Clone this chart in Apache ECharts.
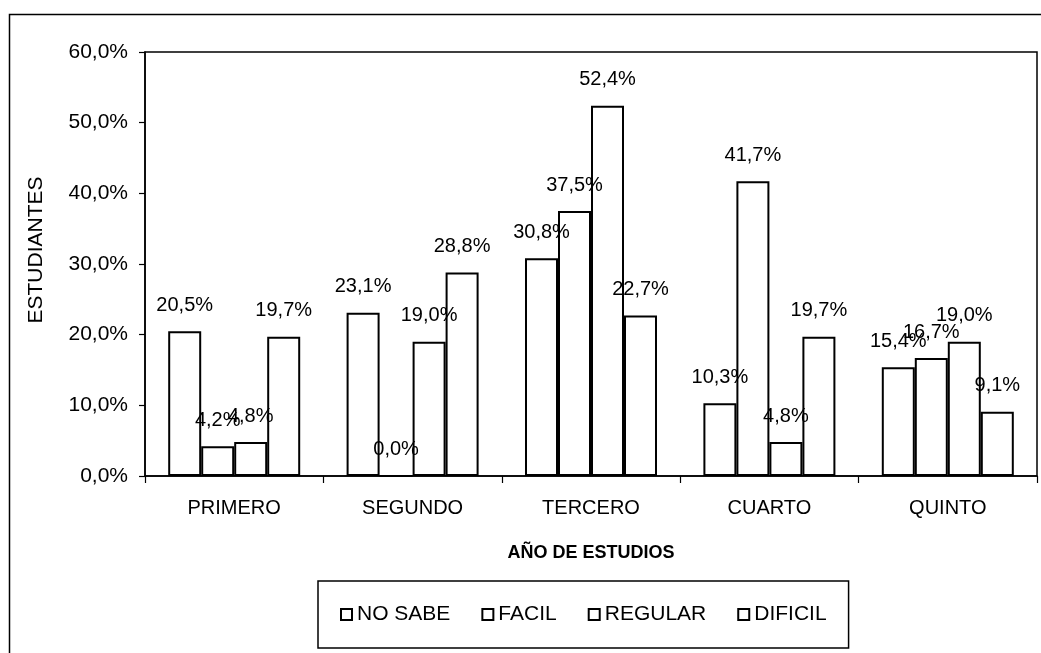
<!DOCTYPE html>
<html>
<head>
<meta charset="utf-8">
<script src="https://cdn.jsdelivr.net/npm/echarts@6/dist/echarts.min.js"></script>
<style>
html,body{margin:0;padding:0;background:#fff;}
#c{width:1041px;height:653px;}
</style>
</head>
<body>
<div id="c"></div>
<script>
const categories = ['PRIMERO', 'SEGUNDO', 'TERCERO', 'CUARTO', 'QUINTO'];
const seriesNames = ['NO SABE', 'FACIL', 'REGULAR', 'DIFICIL'];
const noSabe = [20.5, 23.1, 30.8, 10.3, 15.4];
const facil = [4.2, 0.0, 37.5, 41.7, 16.7];
const regular = [4.8, 19.0, 52.4, 4.8, 19.0];
const dificil = [19.7, 28.8, 22.7, 19.7, 9.1];
const yTicks = [0, 10, 20, 30, 40, 50, 60];
const yAxisTitle = 'ESTUDIANTES';
const xAxisTitle = 'AÑO DE ESTUDIOS';

const FONT = '"Liberation Sans", Arial, sans-serif';
const fmt = v => v.toFixed(1).replace('.', ',') + '%';
const allData = [noSabe, facil, regular, dificil];

const chart = echarts.init(document.getElementById('c'), null, {renderer: 'canvas'});
chart.setOption({
  backgroundColor: '#fff',
  animation: false,
  textStyle: {fontFamily: FONT, color: '#000'},
  grid: {left: 145, right: 4, top: 52, bottom: 177, show: true, borderColor: '#000', borderWidth: 1.5, backgroundColor: 'transparent'},
  graphic: [{
    type: 'rect', left: 7, top: 12, silent: true, z: -1,
    shape: {width: 1100, height: 700},
    style: {fill: 'none', stroke: '#000', lineWidth: 1.5}
  }],
  legend: {
    data: seriesNames,
    left: 318, top: 581,
    orient: 'horizontal',
    padding: [23, 22, 23, 22],
    itemGap: 31,
    itemWidth: 11, itemHeight: 11,
    borderColor: '#000', borderWidth: 1.5,
    icon: 'rect',
    textStyle: {fontFamily: FONT, fontSize: 21, color: '#000'}
  },
  xAxis: {
    type: 'category',
    data: categories,
    name: xAxisTitle,
    nameLocation: 'middle',
    nameGap: 68,
    nameTextStyle: {fontFamily: FONT, fontSize: 18, fontWeight: 'bold', color: '#000'},
    axisLine: {show: true, lineStyle: {color: '#000', width: 1.5}},
    axisTick: {show: true, length: 7, lineStyle: {color: '#000', width: 1.2}},
    axisLabel: {fontFamily: FONT, fontSize: 20, color: '#000', margin: 22}
  },
  yAxis: {
    type: 'value',
    min: 0, max: 60, interval: 10,
    name: yAxisTitle,
    nameLocation: 'middle',
    nameGap: 98,
    nameTextStyle: {fontFamily: FONT, fontSize: 21, color: '#000', padding: [0, 0, 0, 28]},
    axisLine: {show: true, lineStyle: {color: '#000', width: 1.5}},
    axisTick: {show: true, length: 6, lineStyle: {color: '#000', width: 1.2}},
    splitLine: {show: false},
    axisLabel: {
      fontFamily: FONT, fontSize: 21, color: '#000', margin: 17,
      formatter: v => yTicks.includes(v) ? fmt(v) : ''
    }
  },
  series: seriesNames.map((name, i) => ({
    name: name,
    type: 'bar',
    data: allData[i],
    barWidth: 33,
    barGap: '0%',
    itemStyle: {color: '#fff', borderColor: '#000', borderWidth: 2},
    label: {
      show: true, position: 'top', distance: 16,
      fontFamily: FONT, fontSize: 20, color: '#000',
      formatter: p => fmt(p.value)
    }
  }))
});
</script>
</body>
</html>
